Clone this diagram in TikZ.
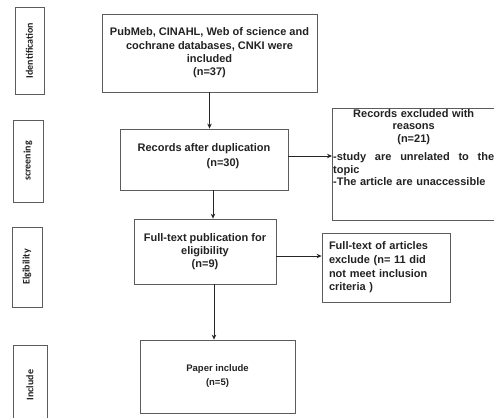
\documentclass[tikz,border=0pt]{standalone}
\usepackage{fontspec}
\setmainfont{Liberation Sans}
\newfontfamily\sidefont{Carlito}
\usetikzlibrary{arrows.meta,calc}
\definecolor{edge}{HTML}{5C5C5C}
\definecolor{ink}{HTML}{222222}
\definecolor{spellred}{HTML}{E07A8A}
\newlength\lenA \newlength\lenB \newlength\lenC \newlength\lenD
\newlength\lenE \newlength\lenF \newlength\lenG
\newcommand\mainfnt{\bfseries\fontsize{11}{13.3}\selectfont}
\begin{document}
\begin{tikzpicture}[x=1pt,y=-1pt,
  box/.style={draw=edge, line width=0.8pt, text=ink, font=\mainfnt, align=center, inner sep=0pt},
  boxtext/.style={text=ink, font=\mainfnt, inner sep=0pt},
  side/.style={draw=edge, line width=0.8pt, text=ink, font=\sidefont\bfseries\fontsize{10}{12}\selectfont, inner sep=0pt, rotate=90},
  spell/.style={draw=spellred, line width=0.9pt},
  arr/.style={draw=black!85, line width=0.8pt, -{Stealth[length=5pt,width=4.5pt]}}]
\clip (0,0) rectangle (494,417);
\fill[white] (0,0) rectangle (494,417);

% side labels
\node[side, minimum width=87pt, minimum height=29pt] (s1) at (29.5,50.5) {Identification};
\node[side, minimum width=82pt, minimum height=30pt] (s2) at (28,161) {screening};
\node[side, minimum width=80pt, minimum height=30pt] (s3) at (27,267) {Elgibility};
\node[side, minimum width=80pt, minimum height=34pt] (s4) at (30,385) {Include};

% main boxes
\node[box, minimum width=215pt, minimum height=78pt] (b1) at (209.5,53)
  {PubMeb, CINAHL, Web of science and\\ cochrane databases, CNKI were\\ included\\ (n=37)};

\node[box, minimum width=168pt, minimum height=61pt] (b2) at (204,159.5) {};
\node[boxtext, align=center, font=\bfseries\fontsize{11}{15}\selectfont] (b2t) at (204,156)
  {Records after duplication\\ \hspace*{38pt}(n=30)};

\node[box, anchor=north west, minimum width=175pt, minimum height=112pt] (ex1) at (332,108) {};
\node[boxtext, font=\bfseries\fontsize{11}{12.6}\selectfont, text width=161pt, align=left, anchor=north west] (ex1t) at (333,109)
  {{\centering Records excluded with\\ reasons\\ (n=21)\par}\vspace{5.5pt}
   -study\hfill are\hfill unrelated\hfill to\hfill the\\ topic\\ -The article are unaccessible};

\node[box, minimum width=142pt, minimum height=65pt] (b4) at (205,251.5)
  {Full-text publication for\\ eligibility\\ (n=9)};

\node[box, align=left, font=\bfseries\fontsize{11}{13.6}\selectfont, text width=114pt, inner xsep=7pt, minimum height=69pt] (b5) at (386,267.5)
  {Full-text of articles\\ exclude (n= 11 did\\ not meet inclusion\\ criteria )};

\node[box, font=\bfseries\fontsize{9.5}{14}\selectfont, minimum width=155pt, minimum height=73pt] (b6) at (217.5,376.5)
  {Paper include\\ (n=5)};

% spell-check underlines
\settowidth\lenA{\mainfnt PubMeb, CINAHL, Web of science and}
\settowidth\lenB{\mainfnt PubMeb}
\settowidth\lenC{\mainfnt cochrane databases, CNKI were}
\settowidth\lenD{\mainfnt cochrane}
\settowidth\lenE{\mainfnt -The article are }
\settowidth\lenF{\mainfnt unaccessible}
\settowidth\lenG{\sidefont\bfseries\fontsize{10}{12}\selectfont Elgibility}
\draw[spell] ([xshift=-0.5\lenA, yshift=14.6pt]b1.center) -- ++(\lenB,0pt);
\draw[spell] ([xshift=-0.5\lenC, yshift=1.3pt]b1.center) -- ++(\lenD,0pt);
\draw[spell] ([xshift=\lenE, yshift=-2.4pt]ex1t.south west) -- ++(\lenF,0pt);
\draw[spell] ([xshift=2.6pt, yshift=-0.5\lenG]s3.base) -- ([xshift=2.6pt, yshift=0.5\lenG]s3.base);

% connectors
\coordinate (p2) at ([yshift=3.5pt]b2.east);
\coordinate (p3) at ([xshift=9pt]b2.south);
\coordinate (p4) at ([yshift=-4.5pt]b4.east);
\coordinate (p5) at ([xshift=9pt]b4.south);
\draw[arr] (b1.south) -- (b1.south |- b2.north);
\draw[arr] (p2) -- (p2 -| ex1.west);
\draw[arr] (p3) -- (p3 |- b4.north);
\draw[arr] (p4) -- (p4 -| b5.west);
\draw[arr] (p5) -- (p5 |- b6.north);
\end{tikzpicture}
\end{document}
